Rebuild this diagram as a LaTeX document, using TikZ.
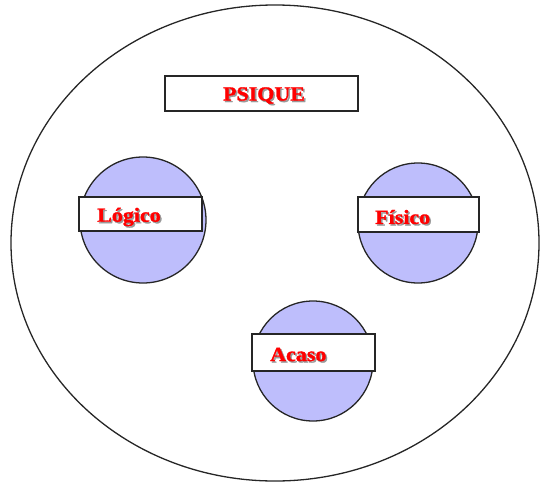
\documentclass[tikz,border=0pt]{standalone}
\usepackage{fontspec}
\setmainfont{Liberation Serif}
\newfontfamily\labelfont[FakeStretch=1.1,FakeBold=1.5]{Liberation Serif Bold}
\begin{document}
\begin{tikzpicture}[x=1pt,y=-1pt,
  outline/.style={draw=black!85,line width=1.3pt},
  ball/.style={outline,fill={rgb,255:red,190;green,190;blue,252}},
  labelbox/.style={outline,fill=white},
  lbl/.style={font=\fontsize{20}{22}\labelfont,text=red,inner sep=0pt},
  shadow/.style={font=\fontsize{20}{22}\labelfont,text=black!40,inner sep=0pt}]
\useasboundingbox (0,0) rectangle (540,482);
\draw[outline] (275,243) ellipse [x radius=264, y radius=238];
% PSIQUE
\draw[labelbox] (165,76) rectangle (358,111);
\node[shadow,anchor=center] (psiqueS) at (265.5,97) {PSIQUE};
\node[lbl,anchor=center] (psique) at (264,95.5) {PSIQUE};
% Logico
\draw[ball] (143,220) circle [radius=63];
\draw[labelbox] (79,197) rectangle (202,231);
\node[shadow,anchor=west] (logicoS) at (98.5,218.5) {Lógico};
\node[lbl,anchor=west] (logico) at (97,217) {Lógico};
% Fisico
\draw[ball] (418,223) circle [radius=60];
\draw[labelbox] (358,197) rectangle (479,232);
\node[shadow,anchor=west] (fisicoS) at (376.5,218.5) {Físico};
\node[lbl,anchor=west] (fisico) at (375,217) {Físico};
% Acaso
\draw[ball] (313,361) circle [radius=60];
\draw[labelbox] (252,334) rectangle (375,371);
\node[shadow,anchor=west] (acasoS) at (271.5,356) {Acaso};
\node[lbl,anchor=west] (acaso) at (270,354.5) {Acaso};
\end{tikzpicture}
\end{document}
